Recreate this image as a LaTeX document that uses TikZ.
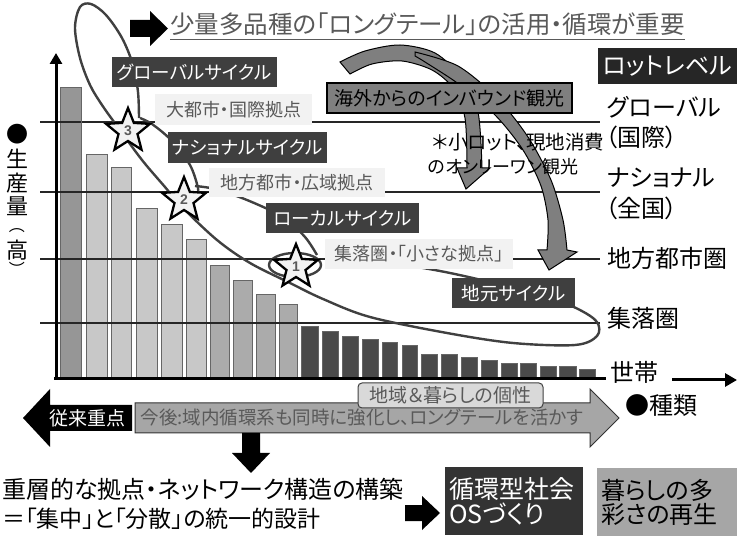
\documentclass[tikz,border=0pt]{standalone}
\usepackage{fontspec}
\setmainfont[RawFeature=+palt]{Noto Sans CJK JP}
\newfontfamily\fullfont{Noto Sans CJK JP}
\newfontfamily\numfont{Liberation Sans}
\usetikzlibrary{shapes.geometric,arrows.meta}
\definecolor{boxdark}{HTML}{3F3F3F}
\definecolor{boxlight}{HTML}{F2F2F2}
\definecolor{txtgray}{HTML}{595959}
\definecolor{barA}{HTML}{969696}
\definecolor{barB}{HTML}{C8C8C8}
\definecolor{barC}{HTML}{ABABAB}
\definecolor{barD}{HTML}{4A4A4A}
\definecolor{arrowgray}{HTML}{7F7F7F}
\definecolor{curvegray}{HTML}{404040}
\definecolor{bandgray}{HTML}{A6A6A6}
\definecolor{tagfill}{HTML}{D9D9D9}
\definecolor{osbox}{HTML}{333333}
\definecolor{lotbox}{HTML}{262626}
\newcommand\FS[1]{\fontsize{#1}{#1}\selectfont}
\begin{document}
\begin{tikzpicture}[x=1pt,y=-1pt,
  darkbox/.style={fill=boxdark, text=white, inner sep=0, font=\FS{18.5}},
  lightbox/.style={fill=boxlight, text=txtgray, inner sep=0, font=\FS{18}},
  lbl/.style={inner sep=0, anchor=west, font=\FS{24}},
  vch/.style={inner sep=0, font=\FS{22}},
  hline/.style={line width=1.5, black!85},
  cyc/.style={line width=2.4, curvegray},
  bigarrow/.style={fill=arrowgray, draw=black, line width=1},
  barbox/.style={draw=black!60, line width=0.8},
  starnode/.style={star, star points=5, star point ratio=2.3, minimum size=46, draw=black, line width=2.3, fill=black!5, inner sep=0, text=txtgray, font=\numfont\bfseries\FS{14}}
]
\useasboundingbox (0,0) rectangle (737,537);

% grid lines
\draw[hline] (40,122) -- (600,122);
\draw[hline] (40,192) -- (600,192);
\draw[hline] (40,259) -- (600,259);
\draw[hline] (40,323) -- (600,323);

% bars
\foreach \xa/\xb/\tp/\col in {60/81/87/barA, 86/107/154/barB, 111/131/167/barB, 136/157/208/barB,
  161/182/224/barB, 186/206/239/barB, 210/229/265/barC, 233/252/280/barC, 256/275/294/barC,
  279/297/304/barC, 301/318/326/barD, 322/338/331/barD, 342/358/336/barD, 362/378/339/barD,
  382/397/342/barD, 402/417/345/barD, 421/437/354/barD, 441/457/354/barD, 461/477/357/barD,
  481/497/360/barD, 501/517/363/barD, 520/536/363/barD, 540/556/366/barD, 559/576/366/barD,
  579/595/369/barD}
  \draw[barbox, fill=\col] (\xa,378) rectangle (\xb,\tp);

% grid lines over bars
\draw[hline] (40,259) -- (300,259);
\draw[hline] (40,323) -- (300,323);
\draw[hline] (40,192) -- (200,192);
\draw[hline] (40,122) -- (81,122);

% axes
\draw[line width=3] (54,379) -- (606,379);
\draw[line width=3, -{Triangle[length=11pt,width=12pt]}] (56,380) -- (56,53);
\draw[line width=3, -{Triangle[length=12pt,width=13pt]}] (672,380) -- (737,380);

% cycle curves
\draw[cyc] plot[smooth, tension=0.55] coordinates {(139,118) (138,92) (133,65) (122,38) (106,15) (91,4) (80,7) (75,28) (80,58) (90,85) (102,105) (117,126) (142,160) (165,187) (182,207) (217,240) (250,263) (290,283) (323,299) (370,317) (447,333) (513,343) (575,345) (597,336) (597,322) (578,309) (545,296) (490,282) (440,271) (395,264) (345,260)};
\draw[cyc] plot[smooth] coordinates {(140,118) (152,124) (171,140) (190,165) (198,188) (197,196)};
\draw[cyc] plot[smooth] coordinates {(195,186) (215,189) (247,200) (283,217) (305,237) (317,255)};
\draw[cyc] (295,265) ellipse [x radius=26, y radius=12];

% stars
\node[starnode] (s3) at (128,131) {3};
\node[starnode] (s2) at (184,200) {2};
\node[starnode] (s1) at (296,267) {1};

% big curved arrows
\filldraw[bigarrow] plot[smooth] coordinates {(340,62) (365,51) (400,45) (435,53) (462,78) (478,112) (482,168)} -- (490,168) -- (466,189) -- (457,168) -- plot[smooth] coordinates {(467,168) (465,118) (453,88) (432,70) (402,61) (372,64) (350,74)} -- cycle;
\filldraw[bigarrow] plot[smooth] coordinates {(415,52) (458,66) (497,98) (528,137) (551,180) (563,220) (567,250)} -- (577,252) -- (549,270) -- (538,250) -- plot[smooth] coordinates {(547,250) (548,220) (541,186) (523,150) (496,116) (460,85) (425,62) (415,56)} -- cycle;

% labels on the chart
\node[darkbox, minimum width=165, minimum height=30] (glob) at (194.5,72) {グローバルサイクル};
\node[lightbox, minimum width=157, minimum height=31] (metro) at (233.5,109.5) {大都市・国際拠点};
\node[darkbox, minimum width=159, minimum height=31] (natl) at (247.5,147.5) {ナショナルサイクル};
\node[lightbox, minimum width=176, minimum height=29] (region) at (297,182.5) {地方都市・広域拠点};
\node[darkbox, minimum width=153, minimum height=30] (local) at (342.5,218) {ローカルサイクル};
\node[lightbox, minimum width=188, minimum height=30] (village) at (419,254) {集落圏・「小さな拠点」};
\node[darkbox, minimum width=123, minimum height=30] (home) at (513.5,293) {地元サイクル};
\node[fill=arrowgray, draw=black, line width=1.3, minimum width=245, minimum height=30, inner sep=0, font=\FS{19}] (inbound) at (449.5,98) {海外からのインバウンド観光};
\node[inner sep=0, anchor=west, font=\FS{19.5}] (note1) at (432,142) {＊小ロット、現地消費};
\node[inner sep=0, anchor=west, font=\FS{18}] (note2) at (428,167) {のオンリーワン観光};

% title
\fill (130,20) -- (150,20) -- (150,11) -- (168,28.5) -- (150,46) -- (150,37) -- (130,37) -- cycle;
\node[inner sep=0, anchor=west, text=txtgray, font=\FS{24.5}] (title) at (170,24) {少量多品種の「ロングテール」の活用・循環が重要};
\draw[txtgray, line width=1.2] ([yshift=-6pt]title.base west) -- ([yshift=-6pt]title.base east);

% right column
\node[fill=lotbox, text=white, minimum width=139, minimum height=36, inner sep=0, font=\FS{24}] (lot) at (667.5,66) {ロットレベル};
\node[lbl] (l1) at (607,107) {グローバル};
\node[lbl] (l1b) at (605,137) {（国際）};
\node[lbl] (l2) at (607,178) {ナショナル};
\node[lbl] (l2b) at (605,208) {（全国）};
\node[lbl] (l3) at (607,258) {地方都市圏};
\node[lbl] (l4) at (607,318) {集落圏};
\node[lbl] (l5) at (610,372) {世帯};
\node[lbl] (kind) at (625,406) {●種類};

% vertical axis label
\node[vch] (v1) at (17,134) {●};
\node[vch] (v2) at (17,159) {生};
\node[vch] (v3) at (17,183) {産};
\node[vch] (v4) at (17,206) {量};
\node[vch, font=\fullfont\FS{16}] (v5) at (17,231) {︵};
\node[vch] (v6) at (17,250) {高};
\node[vch, font=\fullfont\FS{16}] (v7) at (17,269) {︶};

% bottom double arrow
\fill (132,405) -- (50,405) -- (50,389) -- (23,418) -- (50,447) -- (50,431) -- (132,431) -- cycle;
\node[inner sep=0, text=white, font=\FS{19}] (past) at (87,418) {従来重点};
\filldraw[fill=bandgray, draw=black!80, line width=1] (135,403) -- (590,403) -- (590,389) -- (619,418) -- (590,447) -- (590,433) -- (135,433) -- cycle;
\node[inner sep=0, text=txtgray, font=\FS{18.5}] (future) at (362,418) {今後:域内循環系も同時に強化し、ロングテールを活かす};
\node[draw=black!75, fill=tagfill, rounded corners=4, line width=1, minimum width=185, minimum height=25, inner sep=0, text=txtgray, font=\FS{19}] (tag) at (450.5,395.5) {地域＆暮らしの個性};

% down arrow
\fill (242,433) -- (260,433) -- (260,453) -- (270,453) -- (251,473) -- (232,453) -- (242,453) -- cycle;

% bottom texts
\node[lbl] (b1) at (2,489) {重層的な拠点・ネットワーク構造の構築};
\node[lbl, font=\FS{23}] (b2) at (2,519) {＝「集中」と「分散」の統一的設計};
\fill (405,505) -- (422,505) -- (422,496) -- (440,513) -- (422,530) -- (422,521) -- (405,521) -- cycle;
\node[fill=osbox, text=white, minimum width=138, minimum height=68, inner sep=4, align=left, font=\FS{25}, text width=130] (os) at (514,501) {循環型社会\\OSづくり};
\node[fill=bandgray, text=black, minimum width=140, minimum height=68, inner sep=4, align=left, font=\FS{24}, text width=132] (life) at (667,502) {暮らしの多\\彩さの再生};
\end{tikzpicture}
\end{document}
